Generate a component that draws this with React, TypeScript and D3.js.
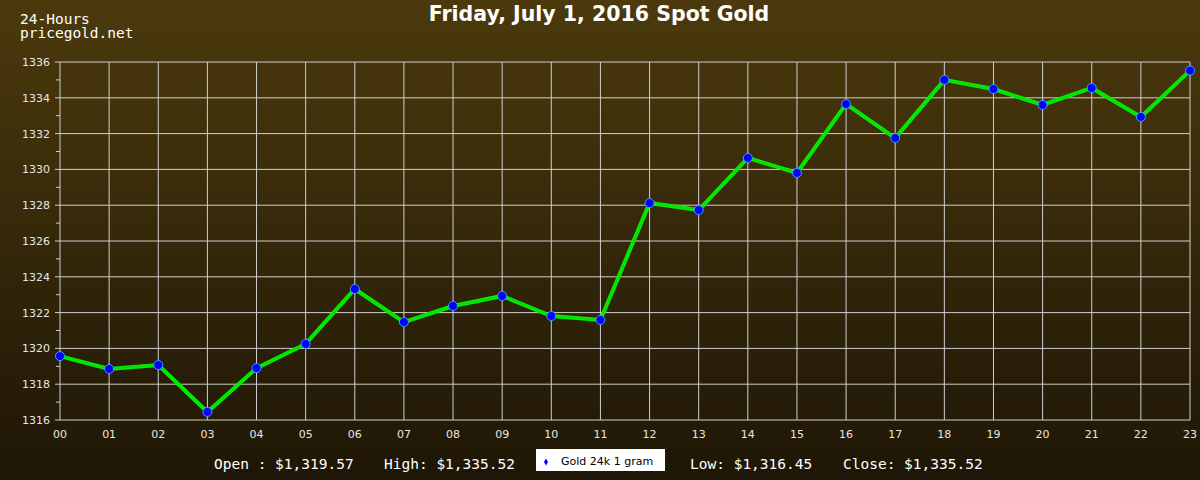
import React, { useEffect, useRef } from "react";
import * as d3 from "d3";

// hourly spot price, July 1 2016
const hours = ["00","01","02","03","04","05","06","07","08","09","10","11","12","13","14","15","16","17","18","19","20","21","22","23"];
const prices = [1319.57,1318.85,1319.07,1316.45,1318.9,1320.25,1323.32,1321.47,1322.37,1322.93,1321.81,1321.59,1328.12,1327.73,1330.64,1329.8,1333.65,1331.75,1335.0,1334.49,1333.6,1334.55,1332.93,1335.52];
const yTicks = [1316,1318,1320,1322,1324,1326,1328,1330,1332,1334,1336];
const yMinor = [1317,1319,1321,1323,1325,1327,1329,1331,1333,1335];
const summary = [
  { label: "Open : $1,319.57", x: 214 },
  { label: "High: $1,335.52", x: 384 },
  { label: "Low: $1,316.45", x: 690 },
  { label: "Close: $1,335.52", x: 843 },
];
const seriesName = "Gold 24k 1 gram";

const W = 1200;
const H = 480;
const margin = { top: 62, right: 10, bottom: 60, left: 60 };

export default function App() {
  const ref = useRef<SVGSVGElement>(null);

  useEffect(() => {
    const svg = d3.select(ref.current);
    svg.selectAll("*").remove();

    const width = W - margin.left - margin.right;
    const height = H - margin.top - margin.bottom;

    // background gradient
    const defs = svg.append("defs");
    const grad = defs
      .append("linearGradient")
      .attr("id", "bg")
      .attr("x1", 0).attr("y1", 0).attr("x2", 0).attr("y2", 1);
    grad.append("stop").attr("offset", "0%").attr("stop-color", "#4c3a0d");
    grad.append("stop").attr("offset", "100%").attr("stop-color", "#1e1606");
    svg.append("rect").attr("width", W).attr("height", H).attr("fill", "url(#bg)");

    const x = d3.scalePoint<string>().domain(hours).range([0, width]);
    const y = d3.scaleLinear().domain([1316, 1336]).range([height, 0]);

    const g = svg
      .append("g")
      .attr("transform", `translate(${margin.left},${margin.top})`);

    // grid
    g.selectAll("line.vgrid")
      .data(hours)
      .enter()
      .append("line")
      .attr("x1", (d) => x(d)!)
      .attr("x2", (d) => x(d)!)
      .attr("y1", 0)
      .attr("y2", height)
      .attr("stroke", "#cfcfcf")
      .attr("stroke-width", 1);
    g.selectAll("line.hgrid")
      .data(yTicks)
      .enter()
      .append("line")
      .attr("x1", -5)
      .attr("x2", width)
      .attr("y1", (d) => y(d))
      .attr("y2", (d) => y(d))
      .attr("stroke", "#cfcfcf")
      .attr("stroke-width", 1);
    g.selectAll("line.minor")
      .data(yMinor)
      .enter()
      .append("line")
      .attr("x1", -4)
      .attr("x2", 0)
      .attr("y1", (d) => y(d))
      .attr("y2", (d) => y(d))
      .attr("stroke", "#cfcfcf");

    // axis labels
    g.selectAll("text.ylab")
      .data(yTicks)
      .enter()
      .append("text")
      .attr("x", -10)
      .attr("y", (d) => y(d) + 4)
      .attr("text-anchor", "end")
      .attr("font-family", "DejaVu Sans")
      .attr("font-size", 11)
      .attr("fill", "#e6e6e6")
      .text((d) => d);
    g.selectAll("text.xlab")
      .data(hours)
      .enter()
      .append("text")
      .attr("x", (d) => x(d)!)
      .attr("y", height + 18)
      .attr("text-anchor", "middle")
      .attr("font-family", "DejaVu Sans")
      .attr("font-size", 11)
      .attr("fill", "#e6e6e6")
      .text((d) => d);

    // price line
    const line = d3
      .line<number>()
      .x((_, i) => x(hours[i])!)
      .y((d) => y(d));
    g.append("path")
      .datum(prices)
      .attr("d", line)
      .attr("fill", "none")
      .attr("stroke", "#00f000")
      .attr("stroke-width", 4);
    g.append("path")
      .datum(prices)
      .attr("d", line)
      .attr("fill", "none")
      .attr("stroke", "#1aa01a")
      .attr("stroke-width", 1)
      .attr("stroke-dasharray", "1 2");

    g.selectAll("circle.pt")
      .data(prices)
      .enter()
      .append("circle")
      .attr("cx", (_, i) => x(hours[i])!)
      .attr("cy", (d) => y(d))
      .attr("r", 4.5)
      .attr("fill", "#0000ff")
      .attr("stroke", "#3aa0ff")
      .attr("stroke-width", 1);

    // titles
    svg.append("text")
      .attr("x", 599)
      .attr("y", 21)
      .attr("text-anchor", "middle")
      .attr("font-family", "DejaVu Sans")
      .attr("font-weight", "bold")
      .attr("font-size", 20.5)
      .attr("fill", "#ffffff")
      .text("Friday, July 1, 2016 Spot Gold");
    svg.append("text")
      .attr("x", 20)
      .attr("y", 24)
      .attr("font-family", "DejaVu Sans Mono")
      .attr("font-size", 14.5)
      .attr("fill", "#ffffff")
      .text("24-Hours");
    svg.append("text")
      .attr("x", 20)
      .attr("y", 38)
      .attr("font-family", "DejaVu Sans Mono")
      .attr("font-size", 14.5)
      .attr("fill", "#ffffff")
      .text("pricegold.net");

    // summary row
    svg.selectAll("text.sum")
      .data(summary)
      .enter()
      .append("text")
      .attr("x", (d) => d.x)
      .attr("y", 469)
      .attr("font-family", "DejaVu Sans Mono")
      .attr("font-size", 14.5)
      .attr("fill", "#ffffff")
      .text((d) => d.label);

    // legend
    const lg = svg.append("g").attr("transform", "translate(536,449)");
    lg.append("rect").attr("width", 129).attr("height", 22).attr("fill", "#ffffff");
    lg.append("path")
      .attr("d", d3.symbol().type(d3.symbolDiamond).size(14)())
      .attr("transform", "translate(10,13)")
      .attr("fill", "#0000ff");
    lg.append("text")
      .attr("x", 25)
      .attr("y", 16)
      .attr("font-family", "DejaVu Sans")
      .attr("font-size", 11)
      .attr("fill", "#000000")
      .text(seriesName);
  }, []);

  return (
    <div style={{ position: "fixed", left: 0, top: 0 }}>
      <svg ref={ref} width={W} height={H} style={{ display: "block" }}></svg>
    </div>
  );
}
